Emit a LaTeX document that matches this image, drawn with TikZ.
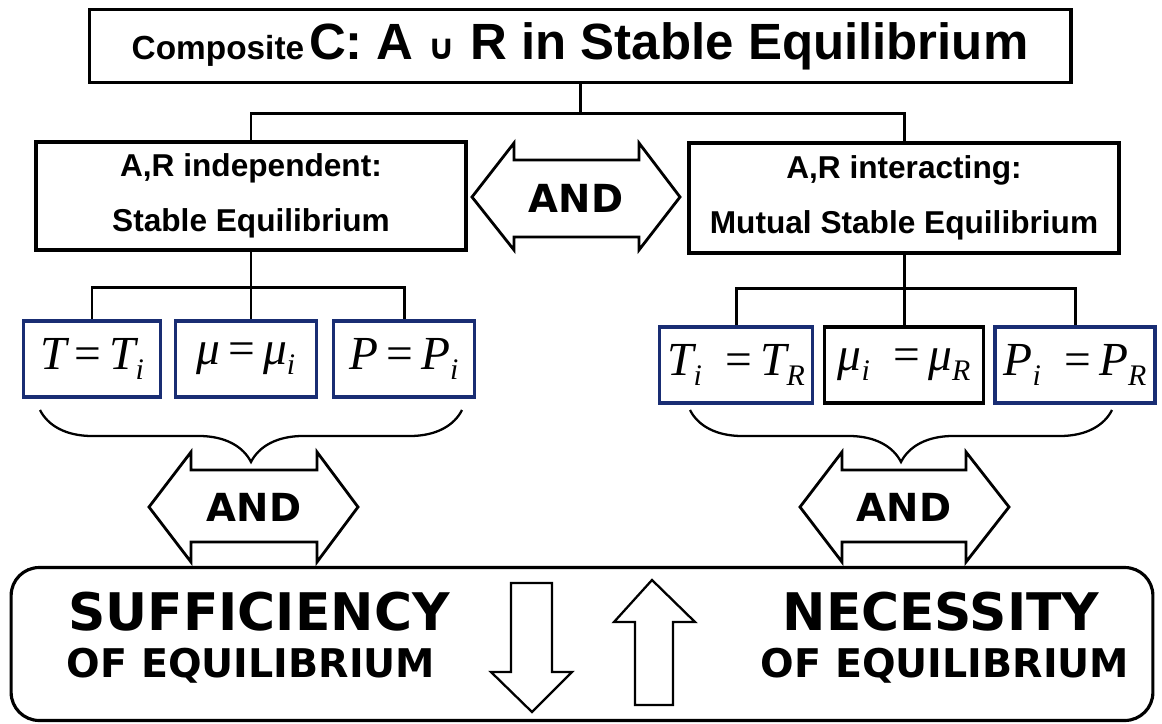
\documentclass[tikz,border=0pt]{standalone}
\usepackage{fontspec}
\setmainfont{Liberation Sans}
\newfontfamily\eqfont{Liberation Serif}
\newfontfamily\capfont{DejaVu Sans}
\usepackage{tikz}
\usetikzlibrary{positioning, decorations.pathreplacing}
\definecolor{EqBlue}{RGB}{25,45,115}
\newcommand{\lowsub}[1]{\raisebox{-5.5pt}{\fontsize{17}{17}\selectfont #1}}

\begin{document}
\begin{tikzpicture}[x=0.02cm, y=-0.02cm,
            bx/.style={rectangle, draw, line width=1.8pt, align=center, inner sep=0pt},
            eq/.style={rectangle, draw=EqBlue, line width=2.2pt, minimum height=1.52cm,
                       inner sep=0pt, font=\fontsize{27}{27}\selectfont\eqfont\itshape},
            ln/.style={line width=1.7pt},
            band/.style={draw, line width=1.6pt, fill=white, line join=miter},
            blk/.style={draw, line width=1.3pt, fill=white, line join=miter},
            andtxt/.style={font=\fontsize{22}{22}\selectfont\capfont\bfseries},
            brc/.style={decorate, decoration={brace, mirror, amplitude=1.04cm}, line width=1.3pt},
            big/.style={anchor=base, font=\fontsize{29.5}{29.5}\selectfont\capfont\bfseries},
            small/.style={anchor=base, font=\fontsize{22.5}{22.5}\selectfont\capfont\bfseries}
          ]
          \useasboundingbox (0,0) rectangle (1162,723);
          \node[bx, minimum width=19.64cm, minimum height=1.46cm] (comp) at (580,46)
                {{\fontsize{19}{19}\selectfont\bfseries Composite}
                 {\fontsize{29}{29}\selectfont\bfseries C: A
                  {\capfont\fontsize{20}{20}\selectfont ∪} R in Stable Equilibrium}};
          \node[bx, minimum width=8.6cm, minimum height=2.16cm,
                font=\fontsize{18}{31}\selectfont\bfseries]
                (indep) at (251,196) {A,R independent:\\Stable Equilibrium};
          \node[bx, minimum width=8.6cm, minimum height=2.2cm,
                font=\fontsize{18}{31}\selectfont\bfseries]
                (inter) at (904,198) {A,R interacting:\\Mutual Stable Equilibrium};
          \node[eq, minimum width=2.74cm] (t1) at (92,359)
                {T\,{\upshape =}\,T\lowsub{i}};
          \node[eq, minimum width=2.82cm] (mu1) at (246,359)
                {μ\,{\upshape =}\,μ\lowsub{i}};
          \node[eq, minimum width=2.82cm] (p1) at (404,359)
                {P\,{\upshape =}\,P\lowsub{i}};
          \node[eq, minimum width=3.06cm] (t2) at (736,365)
                {T\lowsub{i}\enspace{\upshape =}\,T\lowsub{R}};
          \node[eq, draw=black, minimum width=3.18cm] (mu2) at (904,365)
                {μ\lowsub{i}\enspace{\upshape =}\,μ\lowsub{R}};
          \node[eq, minimum width=3.2cm] (p2) at (1075,365)
                {P\lowsub{i}\enspace{\upshape =}\,P\lowsub{R}};
          \draw[ln] (comp.south) -- ++(0,29) coordinate (split);
          \draw[ln] (indep.north) |- (split) -| (inter.north);
          \draw[ln] (indep.south) -- (indep.south |- mu1.north);
          \draw[ln] (t1.north) -- ++(0,-32) -| (p1.north);
          \draw[ln] (inter.south) -- (inter.south |- mu2.north);
          \draw[ln] (t2.north) -- ++(0,-37) -| (p2.north);
          \draw[brc] (40,410) -- (462,410);
          \draw[brc] (690,410) -- (1112,410);
          \draw[band] (472,197) -- (514,143) -- (514,160) -- (639,160) -- (639,143)
                -- (680,197) -- (639,250) -- (639,237) -- (514,237) -- (514,250) -- cycle;
          \node[andtxt] (and0) at (576,198) {AND};
          \draw[band] (149,507) -- (191,452) -- (191,470) -- (317,470) -- (317,452)
                -- (358,507) -- (317,562) -- (317,542) -- (191,542) -- (191,562) -- cycle;
          \node[andtxt] (and1) at (254,507) {AND};
          \draw[band] (800,507) -- (842,452) -- (842,470) -- (966,470) -- (966,452)
                -- (1009,507) -- (966,562) -- (966,542) -- (842,542) -- (842,562) -- cycle;
          \node[andtxt] (and2) at (904,507) {AND};
          \node[draw, line width=1.8pt, rounded corners=16pt, minimum width=22.84cm,
                minimum height=3.06cm] (concl) at (582,644) {};
          \node[big] (suf) at (259,630) {SUFFICIENCY};
          \node[small] (sufeq) at (251,677) {OF EQUILIBRIUM};
          \node[big] (nec) at (941,630) {NECESSITY};
          \node[small] (neceq) at (945,677) {OF EQUILIBRIUM};
          \draw[blk] (511,583) -- (552,583) -- (552,672) -- (572,672) -- (532,712)
                -- (491,672) -- (511,672) -- cycle;
          \draw[blk] (652,580) -- (695,622) -- (673,622) -- (673,705) -- (635,705)
                -- (635,622) -- (614,622) -- cycle;
        \end{tikzpicture}
\end{document}
